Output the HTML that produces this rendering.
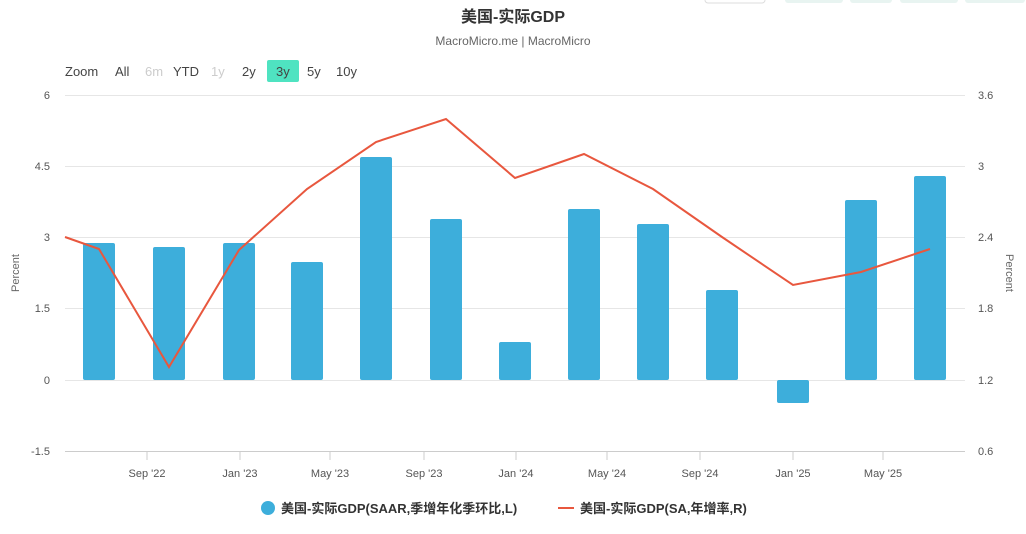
<!DOCTYPE html>
<html><head><meta charset="utf-8"><style>
body{margin:0;background:#fff;font-family:"Liberation Sans","Noto Sans CJK SC",sans-serif;}
</style></head><body>
<svg width="1026" height="529" xmlns="http://www.w3.org/2000/svg" font-family="Liberation Sans, Noto Sans CJK SC, sans-serif">
<rect x="705" y="-6" width="60" height="9" rx="3" fill="#fff" stroke="#ddd"/>
<rect x="785" y="-6" width="58" height="9" rx="3" fill="#e8f4f1"/>
<rect x="850" y="-6" width="42" height="9" rx="3" fill="#e8f4f1"/>
<rect x="900" y="-6" width="58" height="9" rx="3" fill="#e8f4f1"/>
<rect x="965" y="-6" width="60" height="9" rx="3" fill="#e8f4f1"/>
<text x="513" y="22" text-anchor="middle" font-size="16" font-weight="bold" fill="#333">美国-实际GDP</text>
<text x="513" y="45" text-anchor="middle" font-size="12" fill="#666">MacroMicro.me | MacroMicro</text>
<g font-size="13" fill="#444">
<text x="65" y="76">Zoom</text><text x="115" y="76">All</text>
<text x="145" y="76" fill="#ccc">6m</text><text x="173" y="76">YTD</text>
<text x="211" y="76" fill="#ccc">1y</text><text x="242" y="76">2y</text>
<rect x="267" y="60" width="32" height="22" rx="2" fill="#4fe3c1"/>
<text x="276" y="76">3y</text><text x="307" y="76">5y</text><text x="336" y="76">10y</text>
</g>
<g stroke="#e6e6e6" stroke-width="1">
<line x1="65" x2="965" y1="95.5" y2="95.5"/><line x1="65" x2="965" y1="166.5" y2="166.5"/>
<line x1="65" x2="965" y1="237.5" y2="237.5"/><line x1="65" x2="965" y1="308.5" y2="308.5"/>
<line x1="65" x2="965" y1="380.5" y2="380.5"/><line x1="65" x2="965" y1="451.5" y2="451.5" stroke="#ccc"/>
</g>
<g stroke="#ccc"><line x1="147" x2="147" y1="451" y2="460"/><line x1="240" x2="240" y1="451" y2="460"/><line x1="330" x2="330" y1="451" y2="460"/><line x1="424" x2="424" y1="451" y2="460"/><line x1="516" x2="516" y1="451" y2="460"/><line x1="607" x2="607" y1="451" y2="460"/><line x1="700" x2="700" y1="451" y2="460"/><line x1="793" x2="793" y1="451" y2="460"/><line x1="883" x2="883" y1="451" y2="460"/></g>
<g font-size="11" fill="#555" text-anchor="end">
<text x="50" y="99">6</text><text x="50" y="170">4.5</text><text x="50" y="241">3</text><text x="50" y="312">1.5</text><text x="50" y="384">0</text><text x="50" y="455">-1.5</text>
</g>
<g font-size="11" fill="#555">
<text x="978" y="99">3.6</text><text x="978" y="170">3</text><text x="978" y="241">2.4</text><text x="978" y="312">1.8</text><text x="978" y="384">1.2</text><text x="978" y="455">0.6</text>
</g>
<g font-size="11" fill="#555" text-anchor="middle">
<text x="147" y="477">Sep '22</text><text x="240" y="477">Jan '23</text><text x="330" y="477">May '23</text><text x="424" y="477">Sep '23</text><text x="516" y="477">Jan '24</text><text x="607" y="477">May '24</text><text x="700" y="477">Sep '24</text><text x="793" y="477">Jan '25</text><text x="883" y="477">May '25</text>
</g>
<text transform="translate(19,273) rotate(-90)" font-size="11" fill="#666" text-anchor="middle">Percent</text>
<text transform="translate(1006,273) rotate(90)" font-size="11" fill="#666" text-anchor="middle">Percent</text>
<g fill="#3daedb">
<rect x="83" y="243" width="32" height="137" rx="2"/>
<rect x="153" y="247" width="32" height="133" rx="2"/>
<rect x="223" y="243" width="32" height="137" rx="2"/>
<rect x="291" y="262" width="32" height="118" rx="2"/>
<rect x="360" y="157" width="32" height="223" rx="2"/>
<rect x="430" y="219" width="32" height="161" rx="2"/>
<rect x="499" y="342" width="32" height="38" rx="2"/>
<rect x="568" y="209" width="32" height="171" rx="2"/>
<rect x="637" y="224" width="32" height="156" rx="2"/>
<rect x="706" y="290" width="32" height="90" rx="2"/>
<rect x="777" y="380" width="32" height="23" rx="2"/>
<rect x="845" y="200" width="32" height="180" rx="2"/>
<rect x="914" y="176" width="32" height="204" rx="2"/>
</g>
<polyline fill="none" stroke="#e8573e" stroke-width="2" points="65,237 99,249 169,367 239,250 307,189 376,142 446,119 515,178 584,154 653,189 722,237 793,285 861,272 930,249"/>
<circle cx="268" cy="508" r="7" fill="#3daedb"/>
<text x="281" y="513" font-size="13" font-weight="bold" fill="#333">美国-实际GDP(SAAR,季增年化季环比,L)</text>
<line x1="558" x2="574" y1="508" y2="508" stroke="#e8573e" stroke-width="2"/>
<text x="580" y="513" font-size="13" font-weight="bold" fill="#333">美国-实际GDP(SA,年增率,R)</text>
</svg>
</body></html>
